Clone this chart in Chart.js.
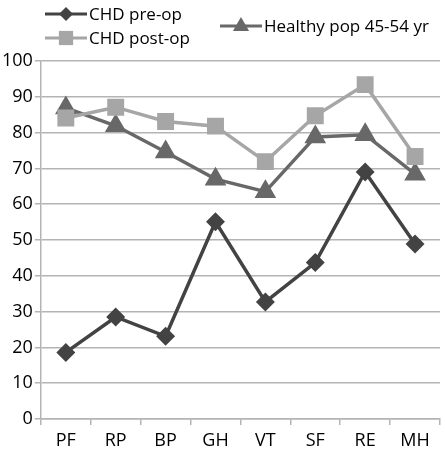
<!DOCTYPE html>
<html>
<head>
<meta charset="utf-8">
<script src="https://cdn.jsdelivr.net/npm/chart.js@4"></script>
<style>
  html,body{margin:0;padding:0;background:#fff;}
  #wrap{position:relative;width:445px;height:449px;}
</style>
</head>
<body>
<div id="wrap"><canvas id="c" width="445" height="449"></canvas></div>
<script>
const categories = ["PF","RP","BP","GH","VT","SF","RE","MH"];
const preOp   = [18.6, 28.5, 23.1, 55.1, 32.7, 43.7, 69.0, 48.9];
const postOp  = [84.1, 87.1, 83.1, 81.8, 71.9, 84.7, 93.4, 73.3];
const healthy = [86.9, 81.9, 74.6, 67.0, 63.5, 78.8, 79.4, 68.4];
const yTicks  = [0,10,20,30,40,50,60,70,80,90,100];

const FONT = "'Open Sans', sans-serif";
const grid = "#b4b4b4";

// legend drawn by hand: two rows on the left, third entry to the right
const legendPlugin = {
  id: "customLegend",
  afterDraw(chart){
    const ctx = chart.ctx;
    const spots = [{x:45,y:14},{x:45,y:38},{x:220,y:26}];
    chart.data.datasets.forEach((ds,i)=>{
      const p = spots[i];
      ctx.save();
      ctx.strokeStyle = ds.borderColor; ctx.lineWidth = 3;
      ctx.beginPath(); ctx.moveTo(p.x,p.y); ctx.lineTo(p.x+42,p.y); ctx.stroke();
      ctx.fillStyle = ds.pointBackgroundColor;
      const cx = p.x+21, cy = p.y, r = ds.pointRadius;
      ctx.beginPath();
      if(ds.pointStyle==="rectRot"){ ctx.moveTo(cx,cy-r);ctx.lineTo(cx+r,cy);ctx.lineTo(cx,cy+r);ctx.lineTo(cx-r,cy);ctx.closePath(); }
      else if(ds.pointStyle==="rect"){ ctx.rect(cx-r*0.75,cy-r*0.75,r*1.5,r*1.5); }
      else { ctx.moveTo(cx,cy-r);ctx.lineTo(cx+r*0.9,cy+r*0.55);ctx.lineTo(cx-r*0.9,cy+r*0.55);ctx.closePath(); }
      ctx.fill();
      ctx.fillStyle = "#000"; ctx.font = "17px "+FONT; ctx.textBaseline = "middle";
      ctx.fillText(ds.label, p.x+44, p.y+1);
      ctx.restore();
    });
  }
};

new Chart(document.getElementById("c"), {
  type: "line",
  data: {
    labels: categories,
    datasets: [
      {label:"CHD pre-op", data:preOp, borderColor:"#434343", pointBackgroundColor:"#434343", pointBorderColor:"#434343",
       pointStyle:"rectRot", pointRadius:7, borderWidth:3.5, tension:0},
      {label:"CHD post-op", data:postOp, borderColor:"#a6a6a6", pointBackgroundColor:"#a6a6a6", pointBorderColor:"#a6a6a6",
       pointStyle:"rect", pointRadius:9.5, borderWidth:3.5, tension:0},
      {label:"Healthy pop 45-54 yr", data:healthy, borderColor:"#686868", pointBackgroundColor:"#686868", pointBorderColor:"#686868",
       pointStyle:"triangle", pointRadius:9, borderWidth:3.5, tension:0}
    ]
  },
  options: {
    responsive:false, animation:false,
    layout:{autoPadding:false, padding:{top:61,right:5,left:0,bottom:0}},
    plugins:{legend:{display:false}, tooltip:{enabled:false}},
    scales:{
      x:{offset:true,
         afterFit(s){ s.paddingLeft = 0; s.paddingRight = 0; s.height = 30; },
         grid:{offset:true, drawOnChartArea:false, color:grid, tickLength:6, lineWidth:1.5},
         border:{color:grid, width:1.5},
         ticks:{color:"#000", font:{family:FONT,size:18}, padding:5}},
      y:{min:0,max:100,
         afterBuildTicks(s){ s.ticks = yTicks.map(v=>({value:v})); },
         afterFit(s){ s.paddingTop = 0; s.paddingBottom = 0; },
         grid:{color:grid, tickLength:6, lineWidth:1.5},
         border:{color:grid, width:1.5},
         ticks:{color:"#000", font:{family:FONT,size:18}, padding:2}}
    }
  },
  plugins:[legendPlugin]
});
</script>
</body>
</html>
